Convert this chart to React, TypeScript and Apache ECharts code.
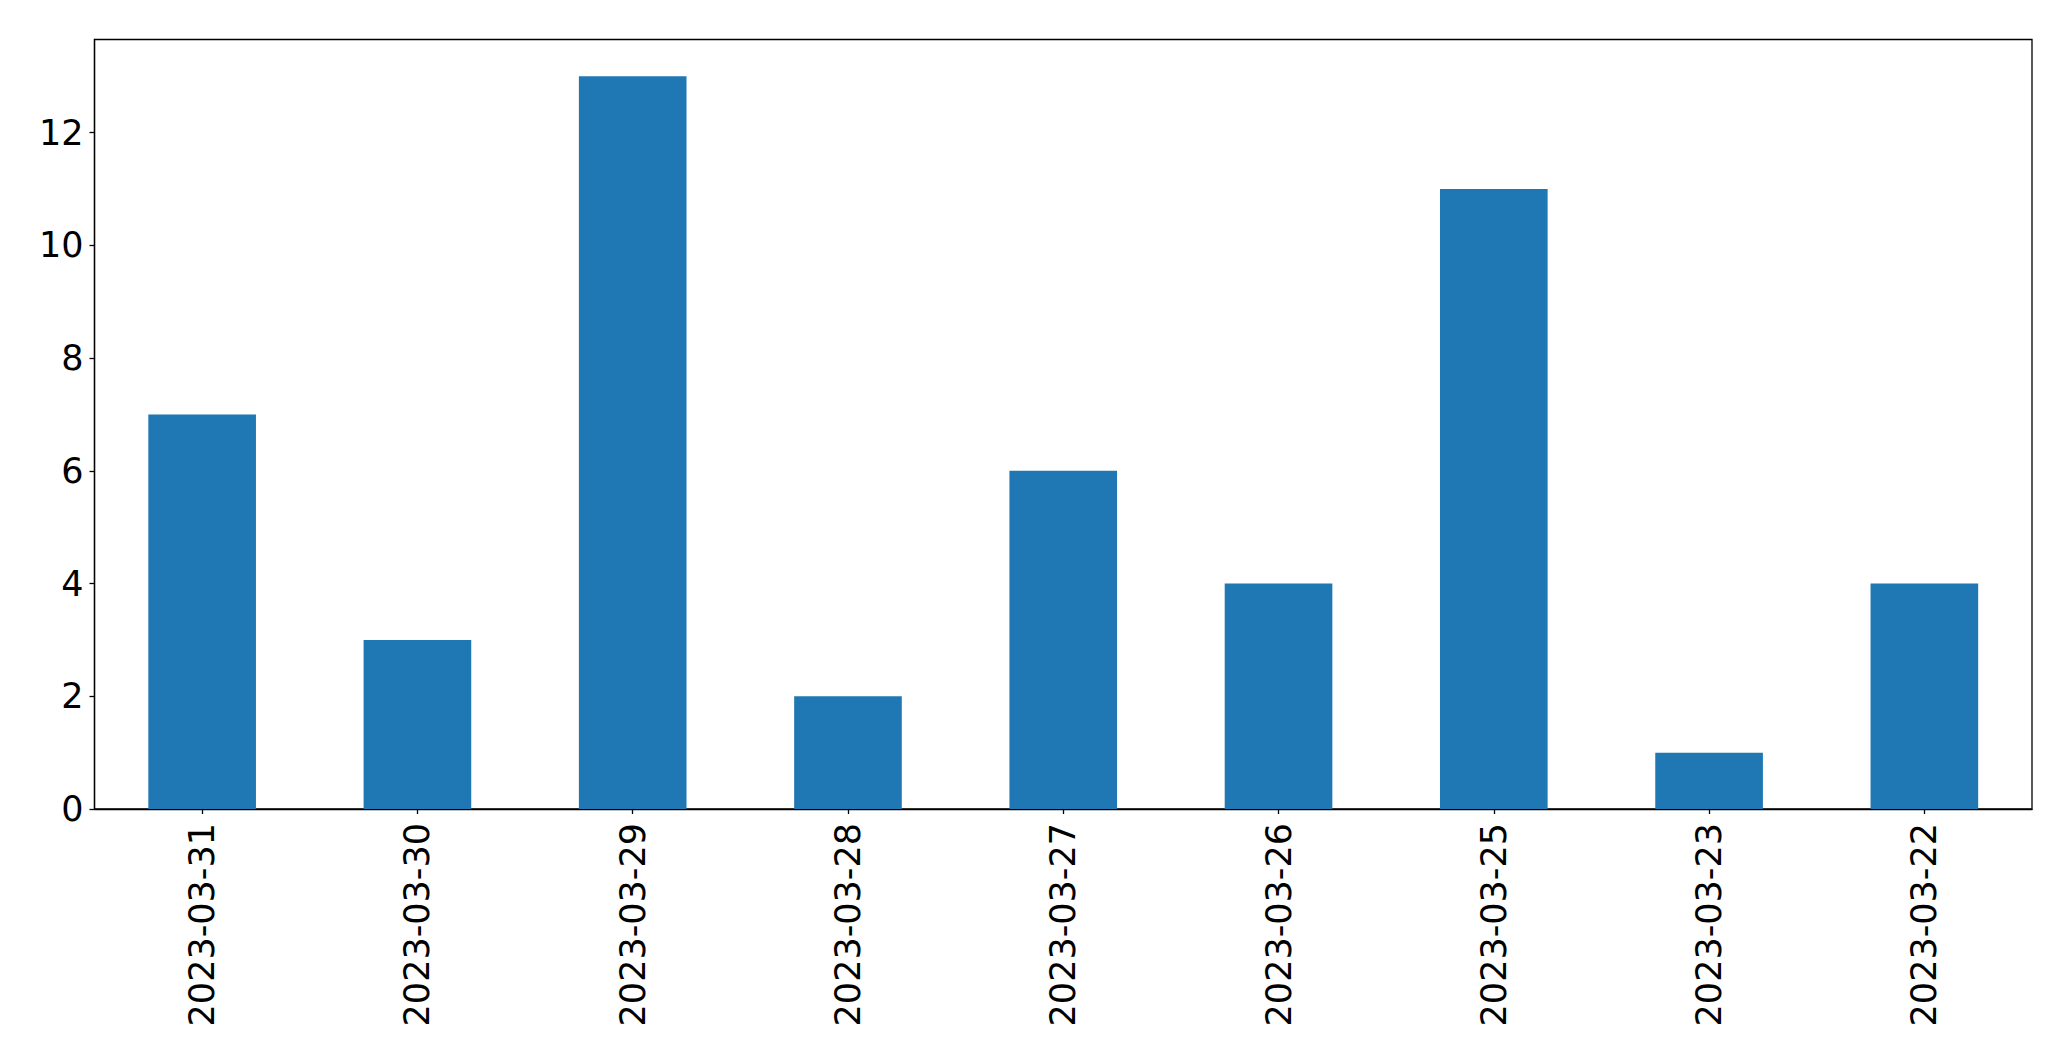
import React, { useEffect, useRef } from "react";
import * as echarts from "echarts";

const categories = [
  "2023-03-31",
  "2023-03-30",
  "2023-03-29",
  "2023-03-28",
  "2023-03-27",
  "2023-03-26",
  "2023-03-25",
  "2023-03-23",
  "2023-03-22",
];
const values = [7, 3, 13, 2, 6, 4, 11, 1, 4];
const yMax = 13.65;
const yInterval = 2;

export default function App() {
  const ref = useRef<HTMLDivElement>(null);
  useEffect(() => {
    if (!ref.current) return;
    const chart = echarts.init(ref.current, null, { renderer: "svg" });
    const font = "DejaVu Sans";
    chart.setOption({
      animation: false,
      backgroundColor: "#ffffff",
      grid: {
        left: 94.5,
        top: 39.5,
        right: 39,
        bottom: 252,
        show: true,
        borderColor: "#000000",
        borderWidth: 1.3,
        backgroundColor: "transparent",
        containLabel: false,
      },
      xAxis: {
        type: "category",
        data: categories,
        boundaryGap: true,
        axisLine: { show: true, lineStyle: { color: "#000", width: 1.3 } },
        axisTick: {
          show: true,
          alignWithLabel: true,
          length: 5,
          lineStyle: { color: "#000", width: 1.3 },
        },
        axisLabel: {
          rotate: 90,
          interval: 0,
          margin: 14,
          color: "#000",
          fontFamily: font,
          fontSize: 35,
        },
        splitLine: { show: false },
      },
      yAxis: {
        type: "value",
        min: 0,
        max: yMax,
        interval: yInterval,
        axisLine: { show: true, lineStyle: { color: "#000", width: 1.3 } },
        axisTick: { show: true, length: 5, lineStyle: { color: "#000", width: 1.3 } },
        axisLabel: {
          showMaxLabel: false,
          margin: 11,
          color: "#000",
          fontFamily: font,
          fontSize: 35,
        },
        splitLine: { show: false },
      },
      series: [
        {
          type: "bar",
          data: values,
          barWidth: "50%",
          itemStyle: { color: "#1f77b4" },
        },
      ],
    });
    return () => chart.dispose();
  }, []);
  return (
    <div
      ref={ref}
      style={{ position: "fixed", left: 0, top: 0, width: 2071, height: 1061 }}
    />
  );
}
